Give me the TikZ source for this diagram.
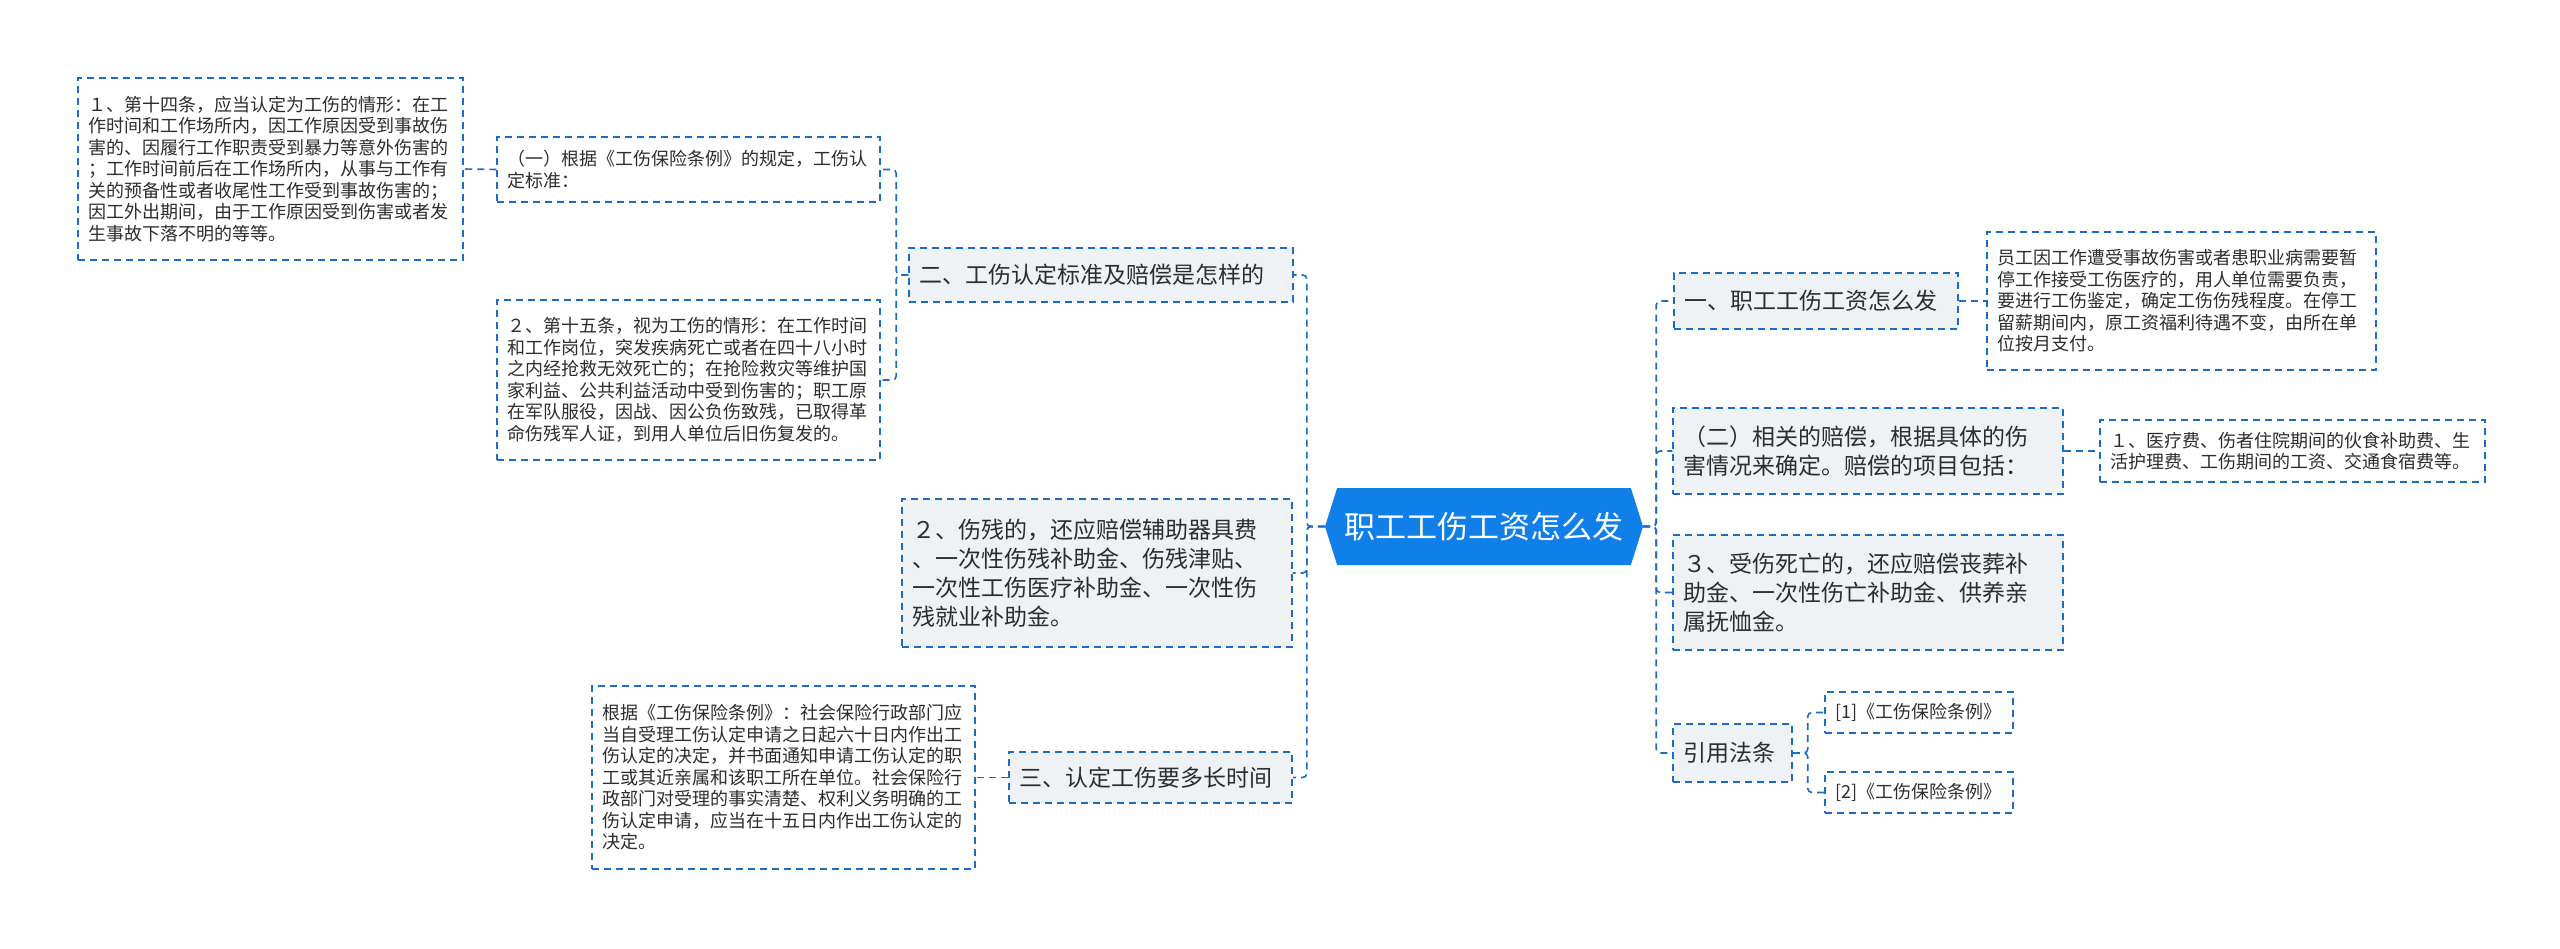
\documentclass[tikz,border=0pt]{standalone}
\usepackage{fontspec}
\newfontfamily\cjk{Noto Sans CJK SC}
\usepackage{xcolor}
\usepackage{tikz}
\usetikzlibrary{shapes.symbols}

\definecolor{linkblue}{RGB}{28,108,196}
\definecolor{rootblue}{RGB}{16,128,232}
\definecolor{topicgray}{RGB}{239,242,245}
\definecolor{textgray}{RGB}{45,45,45}

\begin{document}
\begin{tikzpicture}[x=1pt, y=-1pt,
  link/.style={draw=linkblue, line width=1.6pt, dash pattern=on 7pt off 5pt, rounded corners=4pt},
  box/.style={draw=linkblue, line width=1.5pt, dash pattern=on 7pt off 5pt, text=textgray,
    align=left, inner xsep=10pt, inner ysep=0pt},
  leaf/.style={box, fill=white, font=\cjk\fontsize{18}{21.5}\selectfont},
  topic/.style={box, fill=topicgray, font=\cjk\fontsize{23}{29}\selectfont},
  rootbox/.style={shape=signal, signal to=west and east, signal pointer angle=145,
    fill=rootblue, text=white, font=\cjk\fontsize{31}{36}\selectfont,
    minimum width=318pt, minimum height=77pt, inner sep=0pt}]
  \useasboundingbox (0,0) rectangle (2560,949);
  % 中心主题
  \node[rootbox] (root) at (1484,526.5) {职工工伤工资怎么发};
  % 左侧分支
  \node[topic, text width=364pt, minimum height=54pt] (b1) at (1101,275) {二、工伤认定标准及赔偿是怎样的};
  \node[topic, text width=370pt, minimum height=148pt] (b2) at (1097,573)
    {２、伤残的，还应赔偿辅助器具费\\、一次性伤残补助金、伤残津贴、\\一次性工伤医疗补助金、一次性伤\\残就业补助金。};
  \node[topic, text width=263pt, minimum height=51pt] (b3) at (1150.5,777.5) {三、认定工伤要多长时间};
  % 左侧子节点
  \node[leaf, text width=363pt, minimum height=65pt] (a2) at (688.5,169.5)
    {（一）根据《工伤保险条例》的规定，工伤认\\定标准：};
  \node[leaf, text width=365pt, minimum height=182pt] (a1) at (270.5,169)
    {１、第十四条，应当认定为工伤的情形：在工\\作时间和工作场所内，因工作原因受到事故伤\\害的、因履行工作职责受到暴力等意外伤害的\\；工作时间前后在工作场所内，从事与工作有\\关的预备性或者收尾性工作受到事故伤害的；\\因工外出期间，由于工作原因受到伤害或者发\\生事故下落不明的等等。};
  \node[leaf, text width=363pt, minimum height=160pt] (a3) at (688.5,380)
    {２、第十五条，视为工伤的情形：在工作时间\\和工作岗位，突发疾病死亡或者在四十八小时\\之内经抢救无效死亡的；在抢险救灾等维护国\\家利益、公共利益活动中受到伤害的；职工原\\在军队服役，因战、因公负伤致残，已取得革\\命伤残军人证，到用人单位后旧伤复发的。};
  \node[leaf, text width=363pt, minimum height=183pt] (a4) at (783.5,777.5)
    {根据《工伤保险条例》：社会保险行政部门应\\当自受理工伤认定申请之日起六十日内作出工\\伤认定的决定，并书面通知申请工伤认定的职\\工或其近亲属和该职工所在单位。社会保险行\\政部门对受理的事实清楚、权利义务明确的工\\伤认定申请，应当在十五日内作出工伤认定的\\决定。};
  % 右侧分支
  \node[topic, text width=264pt, minimum height=56pt] (c1) at (1816,301) {一、职工工伤工资怎么发};
  \node[topic, text width=370pt, minimum height=86pt] (c2) at (1868,451)
    {（二）相关的赔偿，根据具体的伤\\害情况来确定。赔偿的项目包括：};
  \node[topic, text width=370pt, minimum height=115pt] (c3) at (1868,592.5)
    {３、受伤死亡的，还应赔偿丧葬补\\助金、一次性伤亡补助金、供养亲\\属抚恤金。};
  \node[topic, text width=99pt, minimum height=58pt] (c4) at (1732.5,753) {引用法条};
  % 右侧子节点
  \node[leaf, text width=369pt, minimum height=138pt] (d1) at (2181.5,301)
    {员工因工作遭受事故伤害或者患职业病需要暂\\停工作接受工伤医疗的，用人单位需要负责，\\要进行工伤鉴定，确定工伤伤残程度。在停工\\留薪期间内，原工资福利待遇不变，由所在单\\位按月支付。};
  \node[leaf, text width=365pt, minimum height=62pt] (d2) at (2292.5,451)
    {１、医疗费、伤者住院期间的伙食补助费、生\\活护理费、工伤期间的工资、交通食宿费等。};
  \node[leaf, text width=168pt, minimum height=41pt] (d3) at (1919,712.5) {[1]《工伤保险条例》};
  \node[leaf, text width=168pt, minimum height=41pt] (d4) at (1919,792.5) {[2]《工伤保险条例》};
  % 连线
  \foreach \n in {b1,b2,b3}
    \draw[link] (root.west) -- ++(-18,0) |- (\n.east);
  \foreach \n in {c1,c2,c3,c4}
    \draw[link] (root.east) -- ++(13,0) |- (\n.west);
  \foreach \n in {a2,a3}
    \draw[link] (b1.west) -- ++(-12,0) |- (\n.east);
  \draw[link] (a2.west) -- (a1.east);
  \draw[link] (b3.west) -- (a4.east);
  \draw[link] (c1.east) -- (d1.west);
  \draw[link] (c2.east) -- (d2.west);
  \foreach \n in {d3,d4}
    \draw[link] (c4.east) -- ++(15,0) |- (\n.west);
\end{tikzpicture}
\end{document}
